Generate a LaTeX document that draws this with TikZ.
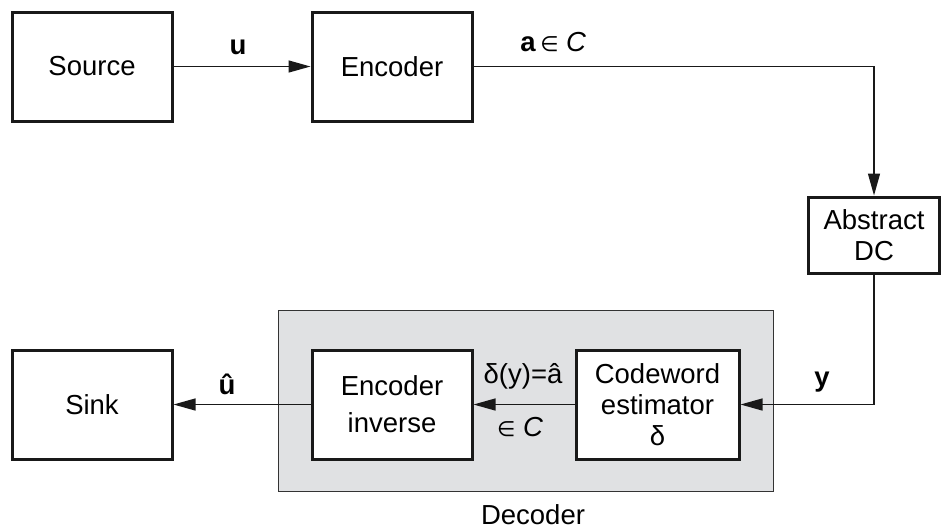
\documentclass[tikz,border=0pt]{standalone}
\usepackage{fontspec}
\setmainfont{Liberation Sans}
\newfontfamily\symf{DejaVu Sans}
\newcommand{\elemsym}{{\symf\fontsize{10.5}{12}\selectfont ∈}}
\usetikzlibrary{arrows.meta}
\definecolor{decfill}{RGB}{224,225,227}
\tikzset{
  blockbox/.style={draw=black!90, line width=1.5pt, fill=white, inner sep=0pt,
    align=center, minimum width=80pt, minimum height=54.5pt,
    font=\fontsize{13.75}{15.5}\selectfont},
  decbox/.style={draw=black!80, line width=0.5pt, fill=decfill, inner sep=0pt},
  flow/.style={draw=black!90, line width=0.65pt, -{Triangle[length=11pt,width=6pt]}},
  lbl/.style={font=\fontsize{13.75}{15.5}\selectfont, inner sep=0pt}
}
\begin{document}
\begin{tikzpicture}[x=0.5pt, y=-0.5pt]
  \useasboundingbox (0,0) rectangle (941,527);
  % decoder enclosure
  \node[decbox, minimum width=247.5pt, minimum height=90.5pt] (dec) at (525.5,400.5) {};
  \node[lbl, anchor=base] (declbl) at (533,524) {Decoder};
  % blocks
  \node[blockbox] (src) at (92,66.5) {Source};
  \node[blockbox] (enc) at (392,66.5) {Encoder};
  \node[blockbox, minimum width=65.5pt, minimum height=38pt] (adc) at (874,235) {Abstract\\DC};
  \node[blockbox] (sink) at (92,404.5) {Sink};
  \node[blockbox, font=\fontsize{13.75}{18.5}\selectfont] (inv) at (392,404.5) {Encoder\\inverse};
  \node[blockbox, minimum width=81.5pt] (cw) at (657.5,404.5) {Codeword\\estimator\\δ};
  % connectors
  \draw[flow] (src.east) -- (enc.west);
  \draw[flow] (enc.east) -| (adc.north);
  \draw[flow] (adc.south) |- (cw.east);
  \draw[flow] (cw.west) -- (inv.east);
  \draw[flow] (inv.west) -- (sink.east);
  % signal labels
  \node[lbl] (lu) at (238,47) {\bfseries u};
  \node[lbl, anchor=west] (la) at (520,42) {{\bfseries a}\,\elemsym\ {\itshape C}};
  \node[lbl] (ly) at (822,382) {\bfseries y};
  \node[lbl] (luh) at (227,384) {\bfseries û};
  \node[lbl] (ld) at (523,376) {δ(y)=â};
  \node[lbl] (lc) at (520,427) {\elemsym\ {\itshape C}};
\end{tikzpicture}
\end{document}
